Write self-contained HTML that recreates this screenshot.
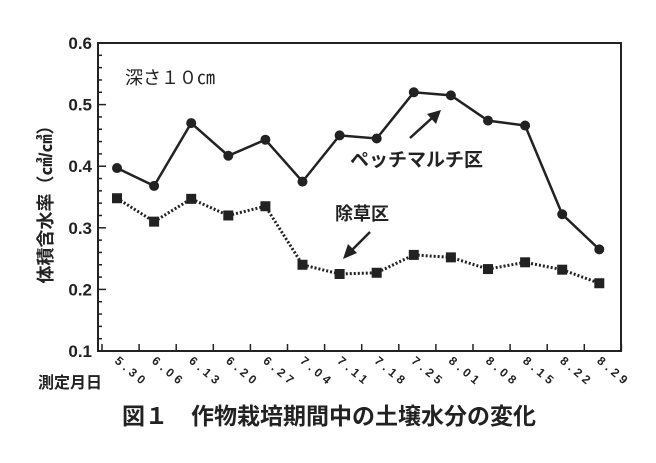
<!DOCTYPE html>
<html><head><meta charset="utf-8"><style>
html,body{margin:0;padding:0;background:#fff;}
svg{display:block;font-family:"Liberation Sans","Noto Sans CJK JP",sans-serif;}
</style></head><body>
<svg id="c" width="656" height="463">
<rect x="98" y="43" width="523" height="308" fill="none" stroke="#222" stroke-width="2"/>
<g id="yax"></g>
<g id="xax"></g>
<g id="series"></g>
<text x="0" y="0" transform="translate(52,200) rotate(-90)" text-anchor="middle" font-size="18" font-weight="bold" fill="#222">体積含水率（㎤/㎤）</text>
<text x="125" y="84" font-size="18" fill="#222">深さ１０㎝</text>
<text x="350" y="166" font-size="19" font-weight="bold" fill="#222">ペッチマルチ区</text>
<text x="335" y="220" font-size="18" font-weight="bold" fill="#222">除草区</text>
<g><line x1="410" y1="138" x2="432" y2="118" stroke="#222" stroke-width="2.5"/><polygon points="441,110 427,114 436,124" fill="#222"/></g>
<g><line x1="370" y1="232" x2="352" y2="250" stroke="#222" stroke-width="2.5"/><polygon points="343,259 348,244 357,253" fill="#222"/></g>
<text x="38" y="388" font-size="16" font-weight="bold" fill="#222">測定月日</text>
<text x="122" y="424" font-size="23" font-weight="bold" fill="#222">図１　作物栽培期間中の土壌水分の変化</text>
</svg>
<script>
const dates=["5.30","6.06","6.13","6.20","6.27","7.04","7.11","7.18","7.25","8.01","8.08","8.15","8.22","8.29"];
const mulch=[0.397,0.368,0.470,0.417,0.443,0.375,0.450,0.445,0.520,0.515,0.474,0.466,0.322,0.265];
const weeding=[0.348,0.310,0.347,0.320,0.335,0.240,0.225,0.227,0.256,0.252,0.233,0.244,0.232,0.210];
const yTicks=[0.1,0.2,0.3,0.4,0.5,0.6];
const NS="http://www.w3.org/2000/svg";
function Y(v){return 351-(v-0.1)/0.5*308;}
function X(i){return 117+i*37.1;}
function mk(t,a,p){const e=document.createElementNS(NS,t);for(const k in a)e.setAttribute(k,a[k]);p.appendChild(e);return e;}
const yax=document.getElementById('yax'),xax=document.getElementById('xax'),ser=document.getElementById('series');
for(let v=0.1;v<=0.6001;v+=0.02){const y=Y(v);const maj=Math.abs(Math.round(v*10)-v*10)<1e-6;
 const t=mk('line',{x1:98,x2:maj?106:102,y1:y,y2:y,stroke:'#222','stroke-width':1.5},yax);
 
 }
yTicks.forEach(v=>{const t=mk('text',{x:92,y:Y(v)+6,'text-anchor':'end','font-size':17,'font-weight':'bold',fill:'#222'},yax);t.textContent=v.toFixed(1);
 
 });
for(let i=0;i<=dates.length;i++){const x=102+i*37.1;const t=mk('line',{x1:x,x2:x,y1:351,y2:344,stroke:'#222','stroke-width':1.5},xax);
 
 }
dates.forEach((d,i)=>{const x=X(i)-3;const t=mk('text',{x:0,y:0,transform:`translate(${x},362) rotate(40)`,'font-size':12,'font-weight':'bold','letter-spacing':'4',fill:'#222'},xax);t.textContent=d;
 
 });
const l1=mk('polyline',{points:mulch.map((v,i)=>X(i)+','+Y(v)).join(' '),fill:'none',stroke:'#222','stroke-width':2.5},ser);


const l2=mk('polyline',{points:weeding.map((v,i)=>X(i)+','+Y(v)).join(' '),fill:'none',stroke:'#222','stroke-width':3,'stroke-dasharray':'2 2'},ser);


mulch.forEach((v,i)=>{const c=mk('circle',{cx:X(i),cy:Y(v),r:5,fill:'#222'},ser);
 
 });
weeding.forEach((v,i)=>{const r=mk('rect',{x:X(i)-5,y:Y(v)-5,width:10,height:10,fill:'#222'},ser);
 
 });
</script>
</body></html>
